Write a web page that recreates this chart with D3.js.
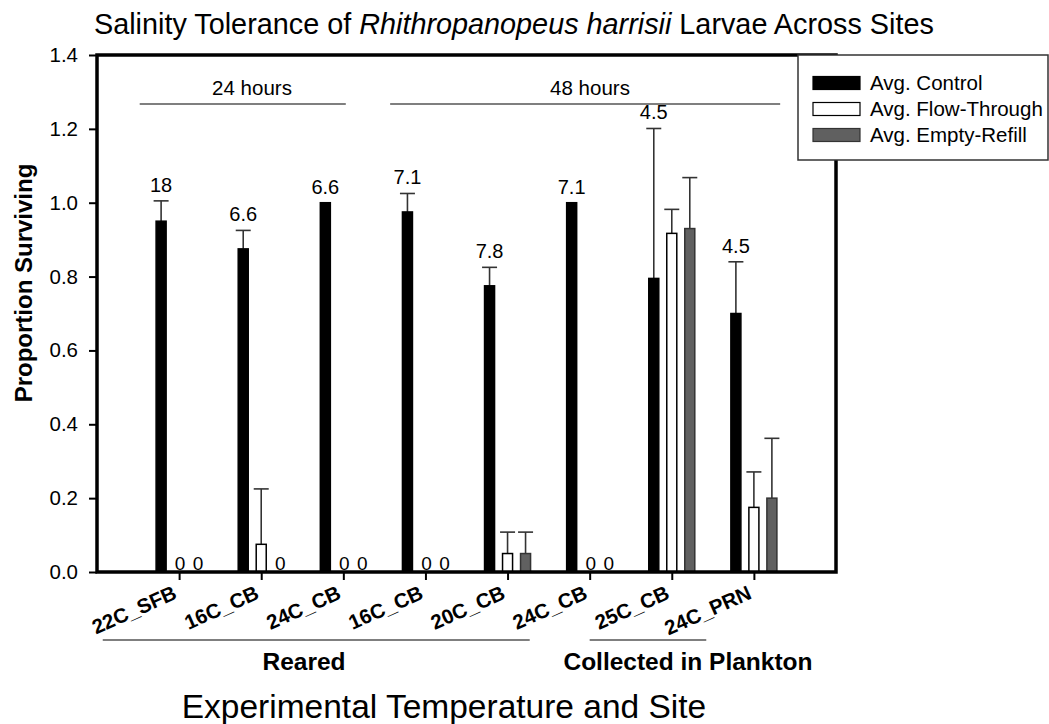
<!DOCTYPE html>
<html>
<head>
<meta charset="utf-8">
<script src="https://cdn.jsdelivr.net/npm/d3@7"></script>
<style>
    body { margin: 0; background: #fff; }
    svg { display: block; font-family: 'Liberation Sans', Arial, sans-serif; }
</style>
</head>
<body>
<svg id="chart" width="1049" height="724"></svg>
<script>
// sites (names repeat, so bars are placed by index)
const categories = ['22C_SFB', '16C_CB', '24C_CB', '16C_CB', '20C_CB', '24C_CB', '25C_CB', '24C_PRN'];
const series = ['Avg. Control', 'Avg. Flow-Through', 'Avg. Empty-Refill'];

const control    = [0.95, 0.875, 1.0, 0.975, 0.775, 1.0, 0.795, 0.70];
const controlErr = [0.055, 0.05, 0, 0.05, 0.05, 0, 0.406, 0.14];
const flow       = [0, 0.075, 0, 0, 0.05, 0, 0.917, 0.175];
const flowErr    = [0, 0.15, 0, 0, 0.058, 0, 0.065, 0.096];
const refill     = [0, 0, 0, 0, 0.05, 0, 0.93, 0.20];
const refillErr  = [0, 0, 0, 0, 0.058, 0, 0.138, 0.162];

const topLabels = ['18', '6.6', '6.6', '7.1', '7.8', '7.1', '4.5', '4.5'];
const yTicks = [0, 0.2, 0.4, 0.6, 0.8, 1.0, 1.2, 1.4];

const svg = d3.select('#chart');

const margin = { left: 97, right: 213, top: 55, bottom: 152 };
const width = 1049, height = 724;

const x = d3.scaleLinear()
    .domain([0, categories.length + 1])
    .range([margin.left, width - margin.right]);

const y = d3.scaleLinear()
    .domain([0, 1.4])
    .range([height - margin.bottom, margin.top]);

// position of each series inside a group
const inner = d3.scaleBand()
    .domain(series)
    .range([-27, 27])
    .paddingInner(0.36)
    .paddingOuter(0.18);

const fills = { 'Avg. Control': '#000', 'Avg. Flow-Through': '#fff', 'Avg. Empty-Refill': '#606060' };
const strokes = { 'Avg. Control': '#000', 'Avg. Flow-Through': '#000', 'Avg. Empty-Refill': '#333' };

const rows = [];
categories.forEach(function(c, i) {
    rows.push({ i: i, s: series[0], v: control[i], e: controlErr[i] });
    rows.push({ i: i, s: series[1], v: flow[i], e: flowErr[i] });
    rows.push({ i: i, s: series[2], v: refill[i], e: refillErr[i] });
});

const cx = d => x(d.i + 1) + inner(d.s) + inner.bandwidth() / 2;

// error bars (upper only)
const err = svg.append('g')
    .attr('stroke', '#333')
    .attr('stroke-width', 1.6);

rows.filter(d => d.e > 0).forEach(function(d) {
    err.append('line')
        .attr('x1', cx(d)).attr('x2', cx(d))
        .attr('y1', y(d.v)).attr('y2', y(d.v + d.e));
    err.append('line')
        .attr('x1', cx(d) - 7.5).attr('x2', cx(d) + 7.5)
        .attr('y1', y(d.v + d.e)).attr('y2', y(d.v + d.e));
});

// bars
svg.append('g')
    .selectAll('rect')
    .data(rows.filter(d => d.v > 0))
    .enter()
    .append('rect')
        .attr('x', d => x(d.i + 1) + inner(d.s) + 0.75)
        .attr('y', d => y(d.v))
        .attr('width', inner.bandwidth() - 1.5)
        .attr('height', d => y(0) - y(d.v))
        .attr('fill', d => fills[d.s])
        .attr('stroke', d => strokes[d.s])
        .attr('stroke-width', 1.5);

// zero labels
svg.append('g')
    .selectAll('text')
    .data(rows.filter(d => d.v === 0 && d.s !== series[0]))
    .enter()
    .append('text')
        .attr('x', d => cx(d) + 1)
        .attr('y', y(0) - 2)
        .attr('text-anchor', 'middle')
        .attr('font-size', 19)
        .text('0');

// labels above control bars
svg.append('g')
    .selectAll('text')
    .data(categories)
    .enter()
    .append('text')
        .attr('x', (d, i) => x(i + 1) + inner(series[0]) + inner.bandwidth() / 2)
        .attr('y', (d, i) => y(control[i] + controlErr[i]) - 9)
        .attr('text-anchor', 'middle')
        .attr('font-size', 20)
        .text((d, i) => topLabels[i]);

// axes
const yAxis = d3.axisLeft(y)
    .tickValues(yTicks)
    .tickFormat(d3.format('.1f'))
    .tickSize(8)
    .tickPadding(11);

const gy = svg.append('g')
    .attr('transform', 'translate(' + margin.left + ',0)')
    .call(yAxis);

const xAxis = d3.axisBottom(x)
    .tickValues(d3.range(1, categories.length + 1))
    .tickFormat('')
    .tickSize(8);

const gx = svg.append('g')
    .attr('transform', 'translate(0,' + y(0) + ')')
    .call(xAxis);

[gx, gy].forEach(function(g) {
    g.select('.domain').remove();
    g.selectAll('.tick line').attr('stroke', '#000').attr('stroke-width', 2);
    g.selectAll('.tick text').attr('font-size', 20.5).attr('fill', '#000').attr('font-family', null);
});

// frame
svg.append('rect')
    .attr('x', x.range()[0])
    .attr('y', y.range()[1])
    .attr('width', x.range()[1] - x.range()[0])
    .attr('height', y.range()[0] - y.range()[1])
    .attr('fill', 'none')
    .attr('stroke', '#000')
    .attr('stroke-width', 3.5);

// category labels
svg.append('g')
    .selectAll('text')
    .data(categories)
    .enter()
    .append('text')
        .attr('transform', (d, i) => 'translate(' + (x(i + 1) - 1) + ',598) rotate(-24)')
        .attr('text-anchor', 'end')
        .attr('font-size', 20.5)
        .attr('font-weight', 'bold')
        .text(d => d);

// time spans and site groups (in x units)
const brackets = [
    { from: 0.52, to: 3.03, y: 104 },
    { from: 3.57, to: 8.32, y: 104 },
    { from: 0.07, to: 5.27, y: 640 },
    { from: 6.0, to: 7.42, y: 640 }
];

const br = svg.append('g');
brackets.forEach(function(b) {
    br.append('line')
        .attr('x1', x(b.from)).attr('x2', x(b.to))
        .attr('y1', b.y).attr('y2', b.y)
        .attr('stroke', '#555')
        .attr('stroke-width', 1.5);
});
br.append('text').attr('x', 252).attr('y', 95).attr('text-anchor', 'middle').attr('font-size', 20.5).text('24 hours');
br.append('text').attr('x', 590).attr('y', 95).attr('text-anchor', 'middle').attr('font-size', 20.5).text('48 hours');
br.append('text').attr('x', 304).attr('y', 670).attr('text-anchor', 'middle').attr('font-size', 24.5).attr('font-weight', 'bold').text('Reared');
br.append('text').attr('x', 688).attr('y', 670).attr('text-anchor', 'middle').attr('font-size', 24.5).attr('font-weight', 'bold').text('Collected in Plankton');

// legend
const legend = svg.append('g');
legend.append('rect')
    .attr('x', 798).attr('y', 55)
    .attr('width', 250).attr('height', 105)
    .attr('fill', '#fff')
    .attr('stroke', '#333')
    .attr('stroke-width', 1.5);

series.forEach(function(s, i) {
    const ry = 83 + i * 26;
    legend.append('rect')
        .attr('x', 813).attr('y', ry - 6.5)
        .attr('width', 47).attr('height', 13)
        .attr('fill', fills[s])
        .attr('stroke', strokes[s])
        .attr('stroke-width', 1.2);
    legend.append('text')
        .attr('x', 870).attr('y', ry)
        .attr('dy', '0.35em')
        .attr('font-size', 20.5)
        .text(s);
});

// titles
const title = svg.append('text')
    .attr('x', 94).attr('y', 34)
    .attr('font-size', 28.8);
title.append('tspan').text('Salinity Tolerance of ');
title.append('tspan').attr('font-style', 'italic').text('Rhithropanopeus harrisii');
title.append('tspan').text(' Larvae Across Sites');

svg.append('text')
    .attr('transform', 'translate(32,283) rotate(-90)')
    .attr('text-anchor', 'middle')
    .attr('font-size', 24)
    .attr('font-weight', 'bold')
    .text('Proportion Surviving');

svg.append('text')
    .attr('x', 444).attr('y', 718)
    .attr('text-anchor', 'middle')
    .attr('font-size', 33.5)
    .text('Experimental Temperature and Site');
</script>
</body>
</html>
